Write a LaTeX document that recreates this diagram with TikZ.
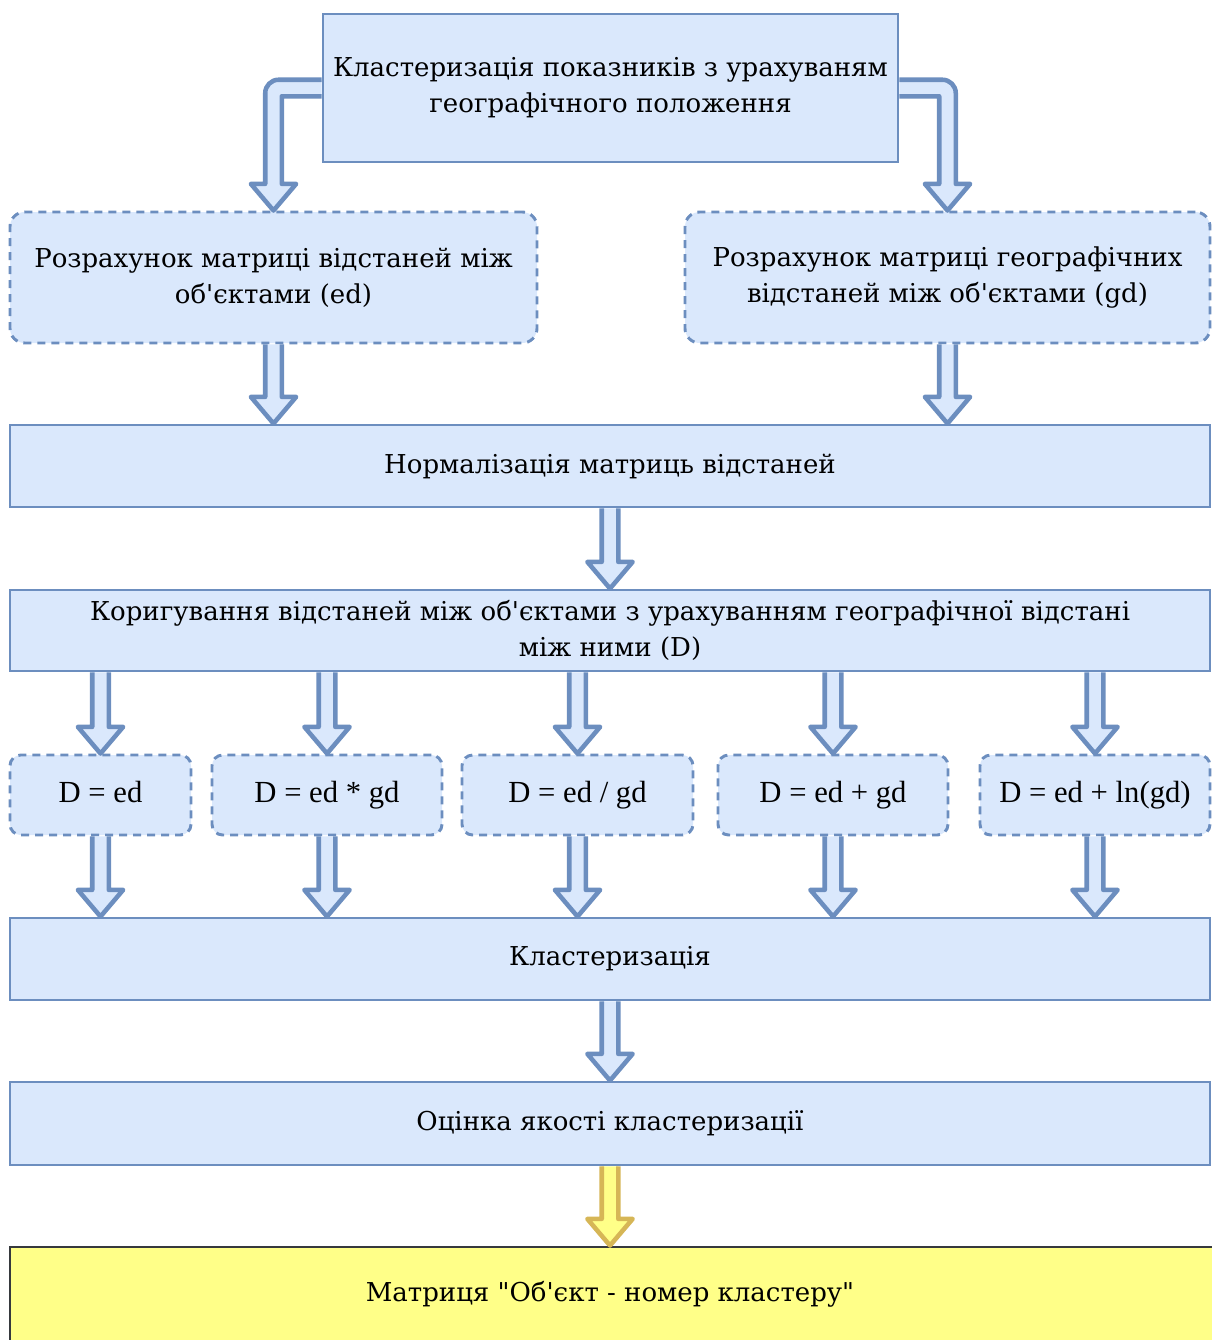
\documentclass[tikz,border=0pt]{standalone}
\usepackage{fontspec}
\setmainfont{DejaVu Serif}[Ligatures=TeXOff]
\newfontfamily\formfont{Liberation Serif}[Ligatures=TeXOff]
\usetikzlibrary{positioning, calc}
\definecolor{boxfill}{HTML}{DAE8FC}
\definecolor{boxline}{HTML}{6C8EBF}
\definecolor{resfill}{HTML}{FFFF88}
\definecolor{resline}{HTML}{36393D}
\definecolor{resarrow}{HTML}{D6B656}

\begin{document}
\begin{tikzpicture}[
		x=0.75pt, y=-0.75pt,
		font=\fontsize{19.5}{27}\selectfont,
		stage/.style={draw=boxline, line width=2.2pt, fill=boxfill, align=center, inner sep=0pt},
		calcbox/.style={stage, dash pattern=on 6pt off 4.5pt, rounded corners=11pt},
		variant/.style={calcbox, rounded corners=8pt, minimum height=60pt, text height=16pt, text depth=5pt,
			font=\formfont\fontsize{23}{27}\selectfont},
		wide/.style={stage, minimum width=900pt, minimum height=61.5pt},
		fat/.style={draw=boxline, fill=boxfill, line width=3.4pt, line join=round, to path={
				let \p1=(\tikztostart), \p2=(\tikztotarget) in
				(\x1-6.2pt,\y1) -- (\x1-6.2pt,\y2+20pt) -- (\x1-17pt,\y2+20pt) -- (\x1,\y2)
				-- (\x1+17pt,\y2+20pt) -- (\x1+6.2pt,\y2+20pt) -- (\x1+6.2pt,\y1)}},
		fatleft/.style={fat, to path={
				let \p1=(\tikztostart), \p2=(\tikztotarget) in
				(\x1,\y1+6.2pt) -- (\x2+3.8pt,\y1+6.2pt) arc[start angle=90, end angle=180, radius=10pt]
				-- (\x2-6.2pt,\y2+20pt) -- (\x2-17pt,\y2+20pt) -- (\x2,\y2) -- (\x2+17pt,\y2+20pt)
				-- (\x2+6.2pt,\y2+20pt) -- (\x2+6.2pt,\y1-6.2pt) -- (\x1,\y1-6.2pt)}},
		fatright/.style={fat, to path={
				let \p1=(\tikztostart), \p2=(\tikztotarget) in
				(\x1,\y1+6.2pt) -- (\x2-3.8pt,\y1+6.2pt) arc[start angle=90, end angle=0, radius=10pt]
				-- (\x2+6.2pt,\y2+20pt) -- (\x2+17pt,\y2+20pt) -- (\x2,\y2) -- (\x2-17pt,\y2+20pt)
				-- (\x2-6.2pt,\y2+20pt) -- (\x2-6.2pt,\y1-6.2pt) -- (\x1,\y1-6.2pt)}},
		result/.style={fat, draw=resarrow, fill=resfill}
		]
		\useasboundingbox (0,0) rectangle (1212,1340);
		
		% Top: clustering with geography
		\node[stage, minimum width=431.25pt, minimum height=111pt] (top) at (610.5,88)
			{Кластеризація показників з урахуваням\\географічного положення};
		
		% Two distance matrices
		\node[calcbox, minimum width=395.25pt, minimum height=98.25pt] (ed) at (273.5,277.5)
			{Розрахунок матриці відстаней між\\об'єктами (ed)};
		\node[calcbox, minimum width=393.75pt, minimum height=98.25pt] (gd) at (947.5,277.5)
			{Розрахунок матриці географічних\\відстаней між об'єктами (gd)};
		
		\node[wide] (norm) at (610,466) {Нормалізація матриць відстаней};
		\node[wide, minimum height=60.75pt] (corr) at (610,630.5)
			{Коригування відстаней між об'єктами з урахуванням географічної відстані\\між ними (D)};
		
		% Variants of D
		\node[variant, minimum width=135.75pt] (d1) at (100.5,795) {D = ed};
		\node[variant, minimum width=172.5pt] (d2) at (327,795) {D = ed * gd};
		\node[variant, minimum width=173.25pt] (d3) at (577.5,795) {D = ed / gd};
		\node[variant, minimum width=172.5pt] (d4) at (833,795) {D = ed + gd};
		\node[variant, minimum width=172.5pt] (d5) at (1095,795) {D = ed + ln(gd)};
		
		\node[wide] (clust) at (610,959) {Кластеризація};
		\node[wide, minimum height=62.25pt] (qual) at (610,1123.5) {Оцінка якості кластеризації};
		
		% Result (runs off the page)
		\node[stage, draw=resline, fill=resfill, line width=2.2pt, minimum width=904.5pt, minimum height=84.75pt]
			(res) at (613,1303.5) {};
		\node (restext) at (610,1294) {Матриця "Об'єкт - номер кластеру"};
		
		% Arrows
		\draw[fatleft] (top.west) to (ed.north);
		\draw[fatright] (top.east) to (gd.north);
		\draw[fat] (ed.south) to (ed.south |- norm.north);
		\draw[fat] (gd.south) to (gd.south |- norm.north);
		\draw[fat] (norm.south) to (corr.north);
		\foreach \d in {d1,d2,d3,d4,d5}{
			\draw[fat] (\d.north |- corr.south) to (\d.north);
			\draw[fat] (\d.south) to (\d.south |- clust.north);
		}
		\draw[fat] (clust.south) to (qual.north);
		\draw[result] (qual.south) to (res.north -| qual.south);
		
	\end{tikzpicture}
\end{document}
